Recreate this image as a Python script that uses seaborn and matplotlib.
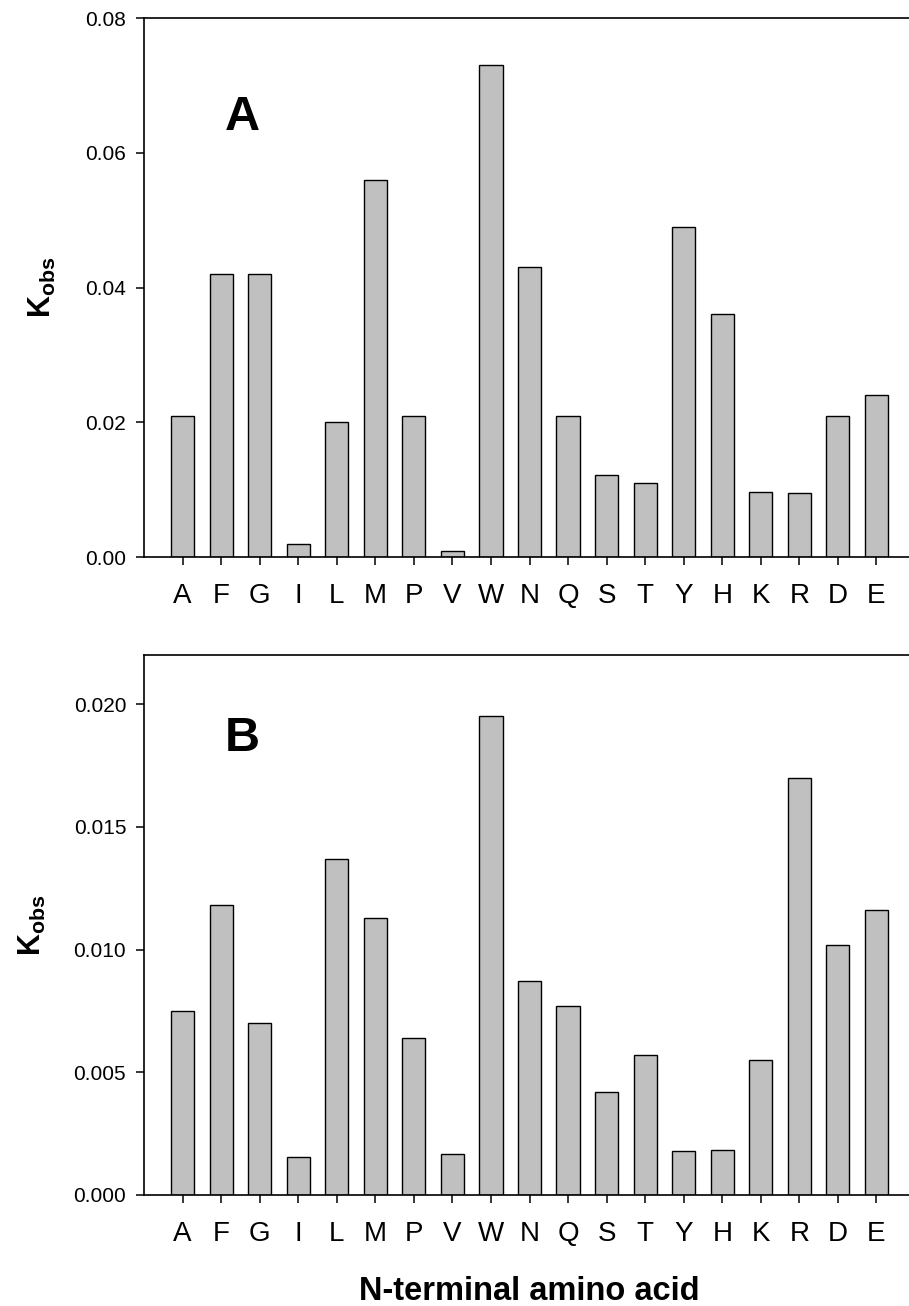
import matplotlib
matplotlib.use("Agg")
import matplotlib.pyplot as plt
import pandas as pd
import seaborn as sns

AMINO_ACIDS = ["A", "F", "G", "I", "L", "M", "P", "V", "W", "N",
               "Q", "S", "T", "Y", "H", "K", "R", "D", "E"]
KOBS_A = [0.021, 0.042, 0.042, 0.002, 0.020, 0.056, 0.021, 0.0009, 0.073, 0.043,
          0.021, 0.0122, 0.011, 0.049, 0.036, 0.0096, 0.0095, 0.021, 0.024]
KOBS_B = [0.0075, 0.0118, 0.0070, 0.00156, 0.0137, 0.0113, 0.0064, 0.00167, 0.0195, 0.0087,
          0.0077, 0.0042, 0.0057, 0.00178, 0.00182, 0.0055, 0.0170, 0.0102, 0.0116]
YTICKS_A = [0.00, 0.02, 0.04, 0.06, 0.08]
YTICKS_B = [0.000, 0.005, 0.010, 0.015, 0.020]

sns.set_style("ticks")
plt.rcParams["font.family"] = ["Liberation Sans", "DejaVu Sans"]
plt.rcParams["mathtext.fontset"] = "custom"
plt.rcParams["mathtext.rm"] = "Liberation Sans"
plt.rcParams["mathtext.bf"] = "Liberation Sans:bold"
for key in ("text.color", "axes.labelcolor", "xtick.color", "ytick.color", "axes.edgecolor"):
    plt.rcParams[key] = "black"

W, H = 909, 1306
fig = plt.figure(figsize=(W / 100, H / 100), dpi=100)


def px_axes(left, top, right, bottom):
    return fig.add_axes([left / W, 1 - bottom / H, (right - left) / W, (bottom - top) / H])


def panel(ax, vals, ymax, yticks, fmt, letter, letter_xy, ylab_x):
    df = pd.DataFrame({"aa": AMINO_ACIDS, "k": vals})
    sns.barplot(data=df, x="aa", y="k", color="#c0c0c0", saturation=1, width=0.6,
                edgecolor="black", linewidth=1, ax=ax)
    ax.set_xlim(-1, 19)
    ax.set_ylim(0, ymax)
    ax.set_yticks(yticks)
    ax.set_yticklabels([fmt.format(v) for v in yticks])
    ax.tick_params(axis="both", direction="out", length=5.8, width=1.1, color="black",
                   labelcolor="black")
    ax.tick_params(axis="y", labelsize=15, pad=7)
    ax.tick_params(axis="x", labelsize=20, pad=13)
    ax.spines["right"].set_visible(False)
    for s in ("left", "bottom", "top"):
        ax.spines[s].set_linewidth(1.2)
        ax.spines[s].set_color("black")
    ax.set_xlabel("")
    ax.set_ylabel(r"$\mathbf{K_{obs}}$", fontsize=22, color="black")
    ax.yaxis.set_label_coords(ylab_x, 0.5)
    ax.text(letter_xy[0], letter_xy[1], letter, transform=ax.transAxes, color="black",
            fontsize=35, fontweight="bold", ha="center", va="center")


ax_a = px_axes(144, 18, 915, 557)
ax_b = px_axes(144, 655, 915, 1195)

panel(ax_a, KOBS_A, 0.08, YTICKS_A, "{:.2f}", "A", (0.128, 0.816), -0.112)
panel(ax_b, KOBS_B, 0.022, YTICKS_B, "{:.3f}", "B", (0.127, 0.846), -0.124)

ax_b.set_xlabel("N-terminal amino acid", fontsize=23.5, fontweight="bold", color="black")
ax_b.xaxis.set_label_coords(0.5, -0.150)

fig.savefig("out.png", dpi=100)
